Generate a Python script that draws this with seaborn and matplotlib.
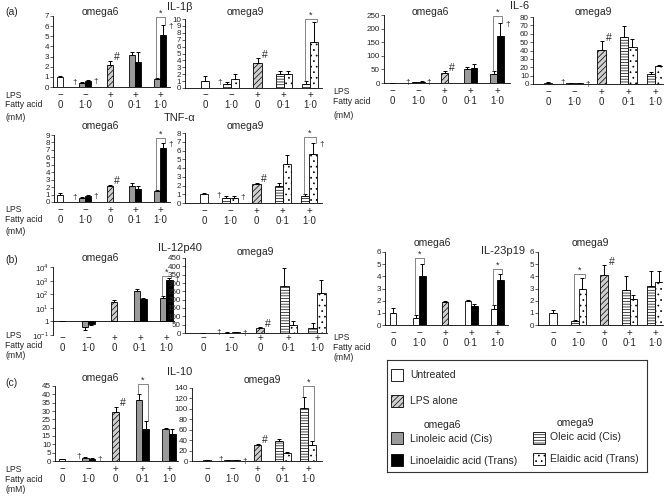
import numpy as np
import pandas as pd
import matplotlib
matplotlib.use("Agg")
import matplotlib.pyplot as plt
import seaborn as sns
from matplotlib.patches import Rectangle

sns.set_theme(style="white")
plt.rcParams['font.family'] = ['Liberation Sans', 'DejaVu Sans']
plt.rcParams['mathtext.fontset'] = 'custom'
plt.rcParams['mathtext.rm'] = 'Liberation Sans'
plt.rcParams['hatch.linewidth'] = 0.5

# ---------------- data ----------------
lps_row = ["−", "−", "+", "+", "+"]
fa_row = ["0", "1·0", "0", "0·1", "1·0"]
bar_group = [0, 1, 1, 2, 3, 3, 4, 4]
bar_side = [0, -1, 1, 0, -1, 1, -1, 1]
kinds6 = ["Untreated", "Cis6", "Trans6", "LPS", "Cis6", "Trans6", "Cis6", "Trans6"]
kinds9 = ["Untreated", "Cis9", "Trans9", "LPS", "Cis9", "Trans9", "Cis9", "Trans9"]

il1b_o6 = [1.0, 0.35, 0.55, 2.2, 3.15, 2.45, 0.8, 5.1]
il1b_o6_err = [0.1, 0.1, 0.15, 0.4, 0.3, 1.0, 0.1, 1.0]
il1b_o9 = [1.0, 0.6, 1.3, 3.6, 2.0, 2.0, 0.6, 6.7]
il1b_o9_err = [0.7, 0.2, 0.8, 0.7, 0.4, 0.4, 0.4, 2.8]
il6_o6 = [0.5, 2.0, 5.0, 35.0, 50.0, 55.0, 33.0, 172.0]
il6_o6_err = [0.5, 1.0, 2.0, 8.0, 7.0, 15.0, 10.0, 50.0]
il6_o9 = [1.5, 1.0, 1.0, 41.0, 56.0, 44.0, 12.0, 21.0]
il6_o9_err = [0.5, 0.3, 0.3, 10.0, 13.0, 10.0, 2.0, 2.0]
tnf_o6 = [1.0, 0.5, 0.8, 2.2, 2.2, 1.8, 1.5, 7.2]
tnf_o6_err = [0.15, 0.15, 0.15, 0.15, 0.3, 0.3, 0.15, 0.7]
tnf_o9 = [1.0, 0.6, 0.6, 2.2, 2.0, 4.5, 0.8, 5.6]
tnf_o9_err = [0.2, 0.2, 0.2, 0.1, 0.3, 1.0, 0.2, 1.3]
il12_o6 = [1.05, 0.4, 0.7, 25.0, 170.0, 45.0, 50.0, 1100.0]
il12_o6_err = [0.05, 0.15, 0.15, 15.0, 60.0, 5.0, 25.0, 400.0]
il12_o9 = [2.0, 3.0, 5.0, 30.0, 280.0, 50.0, 30.0, 240.0]
il12_o9_err = [1.0, 1.0, 2.0, 5.0, 110.0, 25.0, 30.0, 80.0]
il10_o6 = [1.0, 2.0, 1.5, 29.5, 36.5, 19.0, 19.5, 16.5]
il10_o6_err = [0.3, 0.5, 0.3, 3.0, 3.5, 5.0, 0.5, 2.5]
il10_o9 = [1.0, 1.5, 1.5, 31.0, 38.0, 15.0, 102.0, 30.0]
il10_o9_err = [0.5, 0.5, 0.5, 2.0, 4.0, 2.0, 20.0, 8.0]
il23_o6 = [1.0, 0.6, 4.0, 1.9, 1.95, 1.6, 1.35, 3.7]
il23_o6_err = [0.4, 0.2, 1.05, 0.05, 0.1, 0.15, 0.3, 0.5]
il23_o9 = [1.0, 0.3, 3.0, 4.1, 2.85, 2.1, 3.2, 3.55]
il23_o9_err = [0.2, 0.1, 0.85, 0.8, 1.15, 0.35, 1.2, 0.85]

# ---------------- style ----------------
W, H = 666, 497
fig = plt.figure(figsize=(6.66, 4.97), dpi=100)

palette = {"Untreated": "white", "LPS": "#cfcfcf", "Cis6": "#9a9a9a",
           "Trans6": "black", "Cis9": "white", "Trans9": "white"}
hatches = {"Untreated": None, "LPS": "//////", "Cis6": None, "Trans6": None,
           "Cis9": "------", "Trans9": "..."}


def fx(px):
    return px / W


def fy(py):
    return 1 - py / H


def ftext(px, py, s, size=7, ha="center", va="center"):
    fig.text(fx(px), fy(py), s, fontsize=size, ha=ha, va=va)


panels = [
    dict(v=il1b_o6, e=il1b_o6_err, fam=6, ylim=(0, 7), step=1, box=(53, 170, 16, 87), g=(60, 160),
         dag=[(1, "L"), (1, "R"), (4, "R")], hsh=True, star=[(4, 6.9)], pad=2.0),
    dict(v=il1b_o9, e=il1b_o9_err, fam=9, ylim=(0, 10), step=1, box=(185, 322, 19, 88), g=(205, 310),
         dag=[(1, "L")], hsh=True, star=[(4, 10.0)], pad=1.5),
    dict(v=il6_o6, e=il6_o6_err, fam=6, ylim=(0, 250), step=50, box=(384, 510, 15, 83), g=(392, 497),
         dag=[(1, "L"), (1, "R"), (4, "R")], hsh=True, star=[(4, 245)], pad=2.0),
    dict(v=il6_o9, e=il6_o9_err, fam=9, ylim=(0, 80), step=10, box=(533, 663, 17, 84), g=(548, 655),
         dag=[(1, "L"), (1, "R")], hsh=True, star=[], pad=2.0),
    dict(v=tnf_o6, e=tnf_o6_err, fam=6, ylim=(0, 9), step=1, box=(54, 170, 135, 202), g=(60, 160),
         dag=[(1, "L"), (1, "R"), (4, "R")], hsh=True, star=[(4, 8.6)], pad=2.0),
    dict(v=tnf_o9, e=tnf_o9_err, fam=9, ylim=(0, 8), step=1, box=(185, 322, 133, 203), g=(204, 309),
         dag=[(1, "L"), (1, "R"), (4, "R")], hsh=True, star=[(4, 7.5)], pad=2.0),
    dict(v=il12_o6, e=il12_o6_err, fam=6, ylim=(0.1, 1e4), step=None, box=(53, 175, 267, 335), g=(62, 166),
         dag=[(4, "R")], hsh=False, star=[(4, 2200)], pad=-1.5, log=True),
    dict(v=il12_o9, e=il12_o9_err, fam=9, ylim=(0, 450), step=50, box=(185, 327, 258, 333), g=(203, 317),
         dag=[(1, "L"), (1, "R")], hsh=True, star=[], pad=0.0),
    dict(v=il10_o6, e=il10_o6_err, fam=6, ylim=(0, 45), step=5, box=(55, 178, 386, 461), g=(62, 169),
         dag=[(1, "L"), (1, "R")], hsh=True, star=[(3, 46)], pad=2.0),
    dict(v=il10_o9, e=il10_o9_err, fam=9, ylim=(0, 140), step=20, box=(192, 322, 388, 461), g=(207, 308),
         dag=[(1, "L"), (1, "R")], hsh=True, star=[(4, 143)], pad=2.0),
    dict(v=il23_o6, e=il23_o6_err, fam=6, ylim=(0, 6), step=1, box=(385, 508, 252, 325), g=(393, 497),
         dag=[], hsh=False, star=[(1, 5.5), (4, 4.6)], pad=2.0, cis_white=True),
    dict(v=il23_o9, e=il23_o9_err, fam=9, ylim=(0, 6), step=1, box=(538, 663, 252, 325), g=(553, 655),
         dag=[], hsh=True, star=[(1, 4.2)], pad=2.0),
]

for P in panels:
    l, r, t, b = P["box"]
    g0, g4 = P["g"]
    s = (g4 - g0) / 4.0
    ax = fig.add_axes([fx(l), fy(b), (r - l) / W, (b - t) / H])
    off = 0.125 if P["fam"] == 6 else 0.155
    kinds = kinds6 if P["fam"] == 6 else kinds9
    vals = np.array(P["v"], dtype=float)
    errs = np.array(P["e"], dtype=float)
    xpos = np.array(bar_group) + np.array(bar_side) * off
    is_log = P.get("log", False)
    base = 1.0 if is_log else 0.0
    df = pd.DataFrame({"x": xpos, "h": vals - base, "kind": kinds})
    pal = dict(palette)
    if P.get("cis_white"):
        pal["Cis6"] = "white"
    kw = dict(bottom=base) if is_log else {}
    sns.barplot(data=df, x="x", y="h", hue="kind", palette=pal, native_scale=True,
                dodge=False, width=1.0, saturation=1, errorbar=None, legend=False,
                edgecolor="black", linewidth=0.6, ax=ax, **kw)
    for p in ax.patches:
        cx = p.get_x() + p.get_width() / 2
        i = int(np.argmin(np.abs(xpos - cx)))
        h = hatches[kinds[i]]
        if h:
            p.set_hatch(h)
    # error bars (in the direction of the bar)
    down = vals < base
    lower = np.where(down, errs, 0)
    upper = np.where(down, 0, errs)
    ax.errorbar(xpos, vals, yerr=[lower, upper], fmt="none", ecolor="black",
                elinewidth=0.7, capsize=1.5, capthick=0.7)
    tops = np.where(down, vals, vals + errs)
    if is_log:
        ax.set_yscale("log")
        ax.set_ylim(*P["ylim"])
        ax.set_yticks([0.1, 1, 10, 100, 1000, 10000])
        ax.set_yticklabels([r"$10^{-1}$", "1", r"$10^{1}$", r"$10^{2}$", r"$10^{3}$", r"$10^{4}$"])
        ax.minorticks_off()
        ax.axhline(1, color="black", lw=0.6)
        ax.spines["bottom"].set_visible(False)
    else:
        ax.set_ylim(*P["ylim"])
        ax.set_yticks(np.arange(P["ylim"][0], P["ylim"][1] + P["step"] / 2, P["step"]))
    ax.set_xlim((l - g0) / s, 4 + (r - g4) / s)
    ax.set_xticks(range(5))
    ax.set_xticklabels([f"{a}\n{c}" for a, c in zip(lps_row, fa_row)], fontsize=7, linespacing=1.05)
    ax.tick_params(axis="x", length=0, pad=P["pad"])
    ax.tick_params(axis="y", left=True, length=2, width=0.5, direction="out", pad=1, labelsize=5.8)
    ax.set_xlabel("")
    ax.set_ylabel("")
    for sp in ["top", "right"]:
        ax.spines[sp].set_visible(False)
    for sp in ["left", "bottom"]:
        ax.spines[sp].set_linewidth(0.6)
        ax.spines[sp].set_color("black")
    # annotations
    for grp, side in P["dag"]:
        idx = [k for k in range(8) if bar_group[k] == grp and bar_side[k] == (-1 if side == "L" else 1)][0]
        if side == "L":
            ax.annotate("†", (xpos[idx] - off, tops[idx]), xytext=(-1, 0), textcoords="offset points",
                        ha="right", va="center", fontsize=6, annotation_clip=False)
        else:
            ax.annotate("†", (xpos[idx] + off, tops[idx]), xytext=(1.5, -1), textcoords="offset points",
                        ha="left", va="center", fontsize=6, annotation_clip=False)
    if P["hsh"]:
        ax.annotate("#", (xpos[3] + off, tops[3]), xytext=(0.5, 2.5), textcoords="offset points",
                    ha="left", va="center", fontsize=7.5, annotation_clip=False)
    for grp, lev in P["star"]:
        i1 = [k for k in range(8) if bar_group[k] == grp and bar_side[k] == -1][0]
        i2 = i1 + 1
        xa, xb = xpos[i1] - off * 0.2, xpos[i2] + off * 0.6
        ax.plot([xa, xa, xb, xb], [tops[i1], lev, lev, tops[i2]], color="#555555", lw=0.5,
                clip_on=False)
        ax.annotate("*", ((xa + xb) / 2, lev), xytext=(0, -0.5), textcoords="offset points",
                    ha="center", va="bottom", fontsize=6.5, annotation_clip=False)

# ---------------- titles and labels ----------------
ftext(5, 12, "(a)", 7.5, ha="left")
ftext(5, 260, "(b)", 7.5, ha="left")
ftext(5, 383, "(c)", 7.5, ha="left")
ftext(180, 7, "IL-1β", 8)
ftext(100, 12, "omega6", 7.5)
ftext(245, 12, "omega9", 7.5)
ftext(520, 6, "IL-6", 8)
ftext(430, 12, "omega6", 7.5)
ftext(593, 12, "omega9", 7.5)
ftext(180, 118, "TNF-α", 8)
ftext(100, 126, "omega6", 7.5)
ftext(245, 126, "omega9", 7.5)
ftext(180, 248, "IL-12p40", 8)
ftext(100, 258, "omega6", 7.5)
ftext(255, 252, "omega9", 7.5)
ftext(180, 372, "IL-10", 8)
ftext(100, 378, "omega6", 7.5)
ftext(262, 380, "omega9", 7.5)
ftext(503, 251, "IL-23p19", 8)
ftext(432, 243, "omega6", 7.5)
ftext(590, 243, "omega9", 7.5)

row_labels = ["LPS", "Fatty acid", "(mM)"]
for xx, ys in [(5, (95, 105, 117)), (5, (210, 220, 231)), (5, (335, 345, 356)),
               (5, (469, 479, 490)), (333, (91, 102, 116)), (333, (337, 347, 358))]:
    for lab, yy in zip(row_labels, ys):
        ftext(xx, yy, lab, 6.2, ha="left")

# ---------------- legend box ----------------
lx0, ly0, lx1, ly1 = 387, 360, 647, 472
lax = fig.add_axes([fx(lx0), fy(ly1), (lx1 - lx0) / W, (ly1 - ly0) / H])
lax.set_xlim(0, lx1 - lx0)
lax.set_ylim(ly1 - ly0, 0)
lax.set_xticks([])
lax.set_yticks([])
for sp in lax.spines.values():
    sp.set_linewidth(0.8)
    sp.set_color("#333333")
entries = [
    ("Untreated", 4, 9, 23, 15, "white", None),
    ("LPS alone", 4, 35, 23, 41, palette["LPS"], "//////"),
    ("Linoleic acid (Cis)", 4, 72, 23, 79, palette["Cis6"], None),
    ("Linoelaidic acid (Trans)", 4, 94, 23, 101, "black", None),
    ("Oleic acid (Cis)", 146, 72, 163, 77, "white", "------"),
    ("Elaidic acid (Trans)", 146, 93, 163, 99, "white", "..."),
]
for lab, sx, sy, tx, ty, fc, ht in entries:
    lax.add_patch(Rectangle((sx, sy), 12, 12, facecolor=fc, edgecolor="black", lw=0.6, hatch=ht))
    lax.text(tx, ty, lab, fontsize=7.5, ha="left", va="center")
lax.text(55, 65, "omega6", fontsize=7.5, ha="center", va="center")
lax.text(188, 63, "omega9", fontsize=7.5, ha="center", va="center")

fig.savefig("out.png", dpi=100)
